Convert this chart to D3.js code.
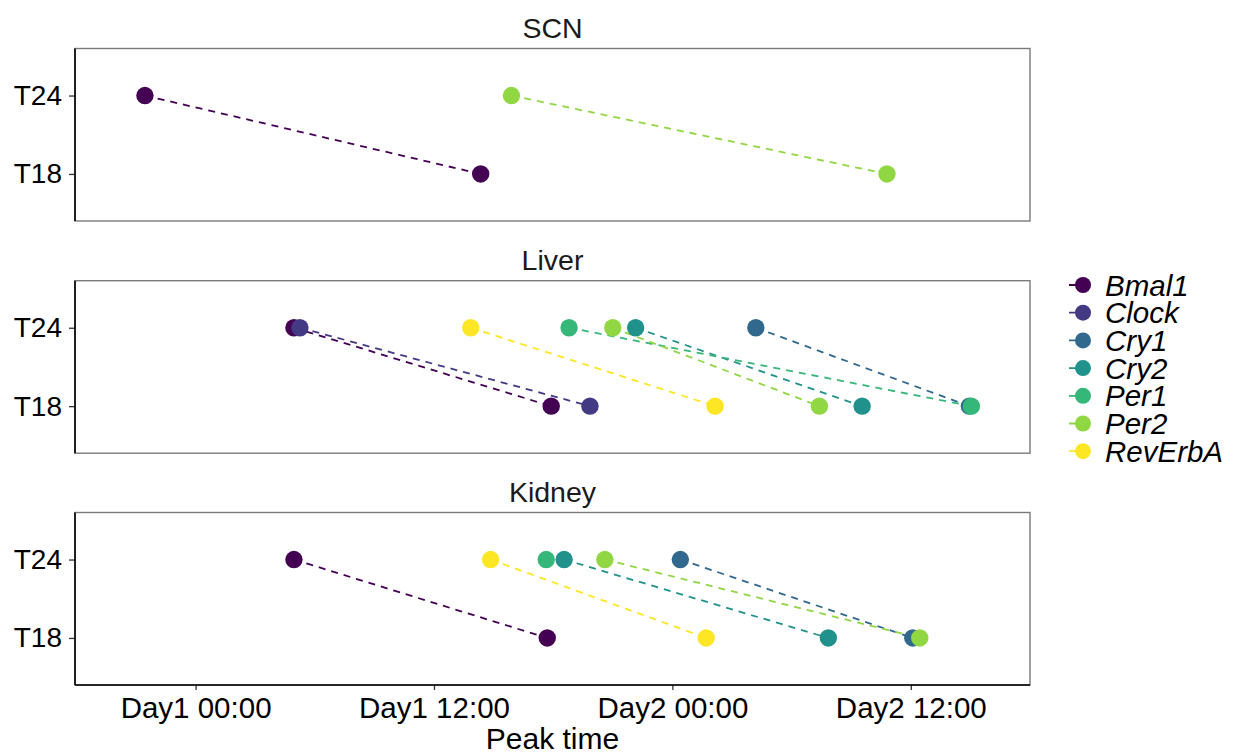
<!DOCTYPE html>
<html>
<head>
<meta charset="utf-8">
<script src="https://cdn.jsdelivr.net/npm/d3@7"></script>
<style>
  html, body { margin: 0; padding: 0; background: #fff; }
  svg { display: block; font-family: "Liberation Sans", Arial, sans-serif; }
</style>
</head>
<body>
<svg id="chart" width="1233" height="755"></svg>
<script>
// Peak times (hours after Day1 00:00) of clock genes, per tissue and light regime
const genes = ["Bmal1", "Clock", "Cry1", "Cry2", "Per1", "Per2", "RevErbA"];
const tissues = ["SCN", "Liver", "Kidney"];
const regimes = ["T18", "T24"];

// one value per gene, in the order of `genes`; null = no peak reported
const scnT24    = [-2.55, null, null, null, null, 15.9, null];
const scnT18    = [14.35, null, null, null, null, 34.8, null];
const liverT24  = [4.95, 5.25, 28.2, 22.15, 18.8, 21.0, 13.85];
const liverT18  = [17.9, 19.85, 38.95, 33.55, 39.05, 31.4, 26.15];
const kidneyT24 = [4.95, null, 24.4, 18.55, 17.65, 20.6, 14.85];
const kidneyT18 = [17.7, null, 36.1, 31.85, null, 36.45, 25.7];

const tickHours = [0, 12, 24, 36];
const tickLabels = ["Day1 00:00", "Day1 12:00", "Day2 00:00", "Day2 12:00"];

const peaks = {
  SCN:    { T24: scnT24,    T18: scnT18 },
  Liver:  { T24: liverT24,  T18: liverT18 },
  Kidney: { T24: kidneyT24, T18: kidneyT18 }
};

const svg = d3.select("#chart");

const panelLeft = 75, panelRight = 1030;
const panelTops = [48.5, 280.7, 512.5];
const panelH = 172.5;

const x = d3.scaleLinear().domain([-6.07, 42.0]).range([panelLeft, panelRight]);
// discrete y with 0.6 expansion on each side
const yLin = d3.scaleLinear().domain([0.4, 2.6]).range([panelH, 0]);
const yPos = r => yLin(regimes.indexOf(r) + 1);

const color = d3.scaleOrdinal().domain(genes).range(d3.quantize(d3.interpolateViridis, genes.length));

const dash = "7,6";

tissues.forEach((tissue, ti) => {
  const top = panelTops[ti];
  const g = svg.append("g").attr("transform", `translate(0,${top})`);

  // strip title
  svg.append("text")
    .attr("x", (panelLeft + panelRight) / 2)
    .attr("y", top - 11)
    .attr("text-anchor", "middle")
    .attr("font-size", 28.5)
    .attr("fill", "#1a1a1a")
    .text(tissue);

  // panel border
  g.append("rect")
    .attr("x", panelLeft).attr("y", 0)
    .attr("width", panelRight - panelLeft).attr("height", panelH)
    .attr("fill", "none").attr("stroke", "#7a7a7a").attr("stroke-width", 1.4);

  // y axis
  const yAxis = d3.axisLeft(d3.scalePoint().domain(regimes).range([yPos("T18"), yPos("T24")]))
    .tickSize(6).tickPadding(7);
  const ya = g.append("g").attr("transform", `translate(${panelLeft},0)`).call(yAxis);
  ya.select(".domain").remove();
  ya.selectAll(".tick line").attr("stroke", "#333").attr("stroke-width", 1.3);
  ya.selectAll(".tick text").attr("font-size", 28).attr("fill", "#000")
    .attr("font-family", "Liberation Sans, Arial, sans-serif");
  g.append("line").attr("x1", panelLeft).attr("x2", panelLeft)
    .attr("y1", 0).attr("y2", panelH).attr("stroke", "#000").attr("stroke-width", 1.6);

  const data = genes.map((gene, i) => ({
    gene, t24: peaks[tissue].T24[i], t18: peaks[tissue].T18[i]
  }));

  // connecting dashed segments
  g.selectAll("line.seg")
    .data(data.filter(d => d.t24 != null && d.t18 != null))
    .join("line")
    .attr("class", "seg")
    .attr("x1", d => x(d.t24)).attr("y1", yPos("T24"))
    .attr("x2", d => x(d.t18)).attr("y2", yPos("T18"))
    .attr("stroke", d => color(d.gene))
    .attr("stroke-width", 1.8)
    .attr("stroke-dasharray", dash);

  // points
  const pts = [];
  data.forEach(d => {
    if (d.t24 != null) pts.push({ gene: d.gene, h: d.t24, r: "T24" });
    if (d.t18 != null) pts.push({ gene: d.gene, h: d.t18, r: "T18" });
  });
  g.selectAll("circle")
    .data(pts)
    .join("circle")
    .attr("cx", d => x(d.h)).attr("cy", d => yPos(d.r))
    .attr("r", 8.7)
    .attr("fill", d => color(d.gene));

  // x axis on the bottom panel only
  if (ti === tissues.length - 1) {
    const xa = g.append("g").attr("transform", `translate(0,${panelH})`)
      .call(d3.axisBottom(x).tickValues(tickHours).tickFormat((d, i) => tickLabels[i])
        .tickSize(5).tickPadding(7));
    xa.select(".domain").remove();
    xa.selectAll(".tick line").attr("stroke", "#333").attr("stroke-width", 1.3);
    xa.selectAll(".tick text").attr("font-size", 29.5).attr("fill", "#000")
      .attr("font-family", "Liberation Sans, Arial, sans-serif");
    g.append("line").attr("x1", panelLeft).attr("x2", panelRight)
      .attr("y1", panelH).attr("y2", panelH).attr("stroke", "#000").attr("stroke-width", 1.6);
  }
});

// x axis title
svg.append("text")
  .attr("x", (panelLeft + panelRight) / 2)
  .attr("y", 749)
  .attr("text-anchor", "middle")
  .attr("font-size", 30)
  .attr("fill", "#000")
  .text("Peak time");

// legend
const legend = svg.append("g").attr("transform", "translate(1083,285)");
const rows = legend.selectAll("g").data(genes).join("g")
  .attr("transform", (d, i) => `translate(0,${i * 27.7})`);
rows.append("line")
  .attr("x1", -14).attr("x2", 12).attr("y1", 0).attr("y2", 0)
  .attr("stroke", d => color(d)).attr("stroke-width", 1.8)
  .attr("stroke-dasharray", dash);
rows.append("circle").attr("r", 8).attr("fill", d => color(d));
rows.append("text")
  .attr("x", 22).attr("y", 0).attr("dy", "0.36em")
  .attr("font-size", 29.5).attr("font-style", "italic").attr("fill", "#000")
  .text(d => d);
</script>
</body>
</html>
